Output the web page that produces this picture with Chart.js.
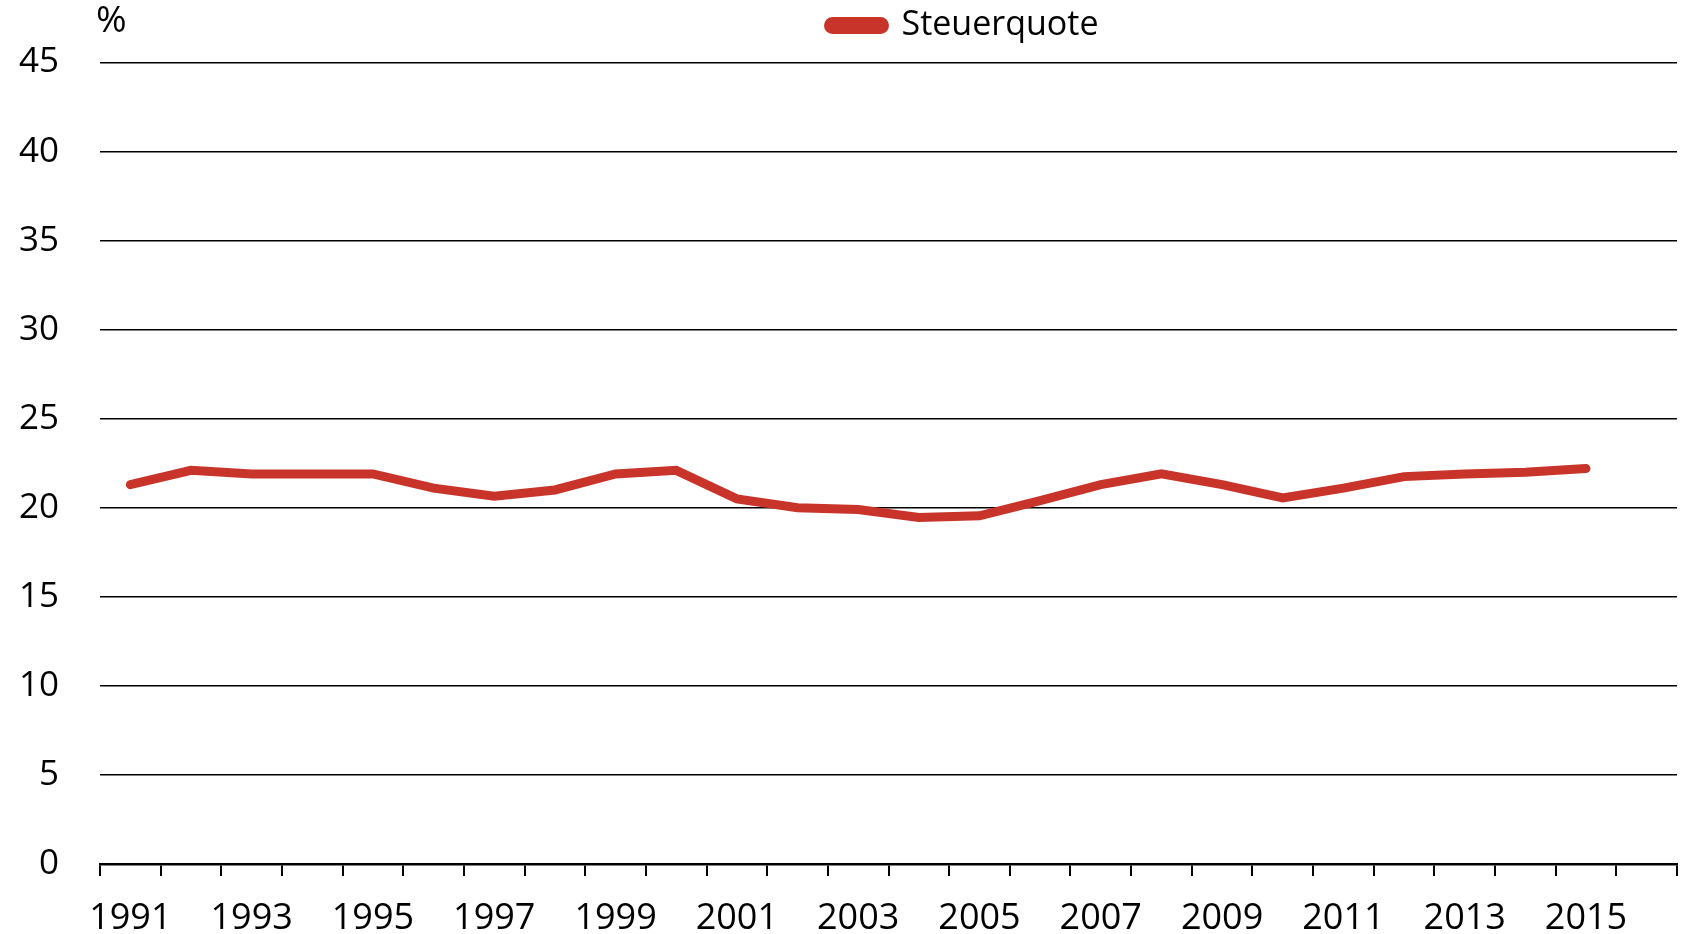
<!DOCTYPE html>
<html>
<head>
<meta charset="utf-8">
<script src="https://cdn.jsdelivr.net/npm/chart.js@4/dist/chart.umd.min.js"></script>
<style>
html,body{margin:0;padding:0;background:#fff;}
#wrap{width:1684px;height:934px;}
</style>
</head>
<body>
<div id="wrap"><canvas id="Chart1"></canvas></div>
<script>
var years = ['1991','1992','1993','1994','1995','1996','1997','1998','1999','2000','2001','2002','2003',
             '2004','2005','2006','2007','2008','2009','2010','2011','2012','2013','2014','2015','2016'];
var steuerquote = [21.3,22.1,21.9,21.9,21.9,21.1,20.65,21.0,21.9,22.1,20.5,20.0,19.9,
                   19.45,19.55,20.4,21.3,21.9,21.3,20.55,21.1,21.75,21.9,22.0,22.2,null];
var yTicks = [0,5,10,15,20,25,30,35,40,45];
var unitLabel = '%';
var fontFam = '"Open Sans", "Noto Sans", sans-serif';

window.onload = function () {
    buildChart();
}

var extras = {
    id: 'extras',
    beforeDraw: function (chart) {
        // Legende wie im Original nach rechts und etwas hoeher
        chart.legend.left = 814;
        chart.legend.top = -6;
    },
    afterDraw: function (chart) {
        var ctx = chart.ctx;
        ctx.save();
        ctx.fillStyle = '#000';
        ctx.font = '37px ' + fontFam;
        ctx.textAlign = 'left';
        ctx.textBaseline = 'middle';
        ctx.fillText(unitLabel, chart.chartArea.left - 4, 21);
        ctx.restore();
    }
};

function buildChart() {
    var ctx = document.getElementById('Chart1').getContext('2d');
    var chart = new Chart(ctx, {
        type: 'line',
        data: {
            labels: years,
            datasets: [{
                label: 'Steuerquote',
                data: steuerquote,
                borderColor: '#c8342a',
                backgroundColor: '#c8342a',
                borderWidth: 9,
                borderCapStyle: 'round',
                borderJoinStyle: 'miter',
                pointRadius: 0,
                tension: 0,
                fill: false
            }]
        },
        options: {
            responsive: true,
            maintainAspectRatio: false,
            animation: false,
            layout: {padding: {left: 0, right: 7, top: 4, bottom: 0}},
            plugins: {
                legend: {
                    position: 'top',
                    align: 'start',
                    labels: {
                        boxWidth: 56,
                        boxHeight: 8,
                        useBorderRadius: true,
                        borderRadius: 4,
                        color: '#000',
                        padding: 14.5,
                        font: {family: fontFam, size: 34}
                    }
                },
                tooltip: {enabled: false}
            },
            scales: {
                x: {
                    offset: true,
                    afterFit: function (axis) { axis.height = 70; },
                    grid: {
                        offset: true,
                        drawOnChartArea: false,
                        drawTicks: true,
                        tickLength: 12,
                        color: '#000',
                        lineWidth: 2
                    },
                    border: {display: true, color: '#000', width: 2.5},
                    ticks: {
                        autoSkip: false,
                        maxRotation: 0,
                        color: '#000',
                        padding: 21,
                        font: {family: fontFam, size: 36},
                        callback: function (val, i) {
                            return i % 2 === 0 ? years[i] : '';
                        }
                    }
                },
                y: {
                    min: 0,
                    max: 45,
                    afterFit: function (axis) { axis.width = 100; },
                    afterBuildTicks: function (axis) {
                        axis.ticks = yTicks.map(function (v) { return {value: v}; });
                    },
                    grid: {color: '#000', lineWidth: 1.5, drawTicks: false},
                    border: {display: false},
                    ticks: {
                        color: '#000',
                        padding: 41,
                        font: {family: fontFam, size: 35}
                    }
                }
            }
        },
        plugins: [extras]
    });
}
</script>
</body>
</html>
